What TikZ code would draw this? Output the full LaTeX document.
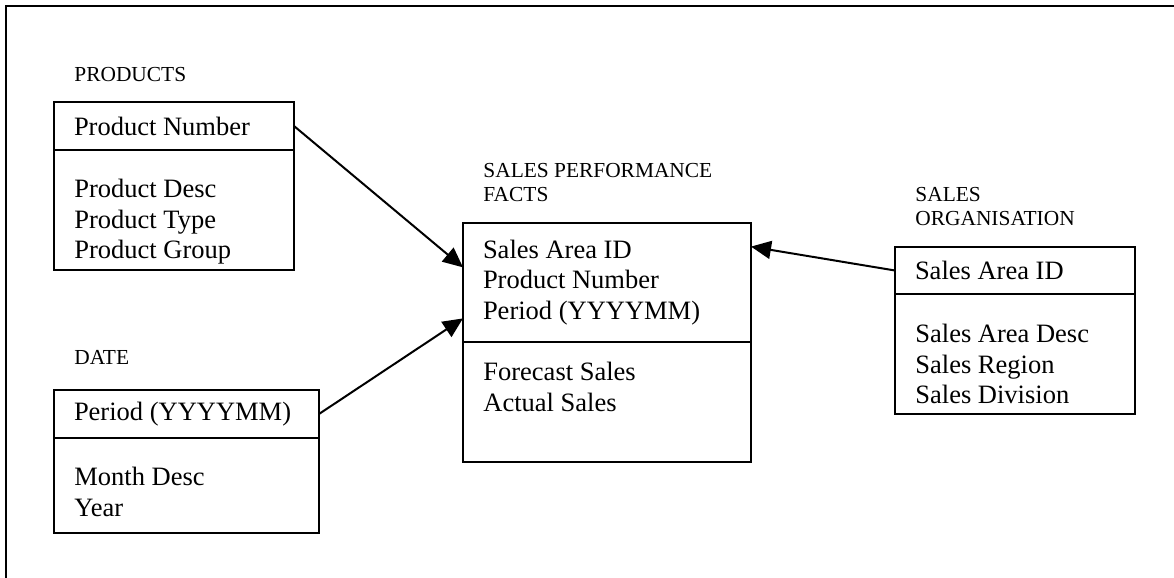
\documentclass[tikz,border=0pt]{standalone}
\usepackage{fontspec}
\setmainfont{Liberation Serif}
\usetikzlibrary{positioning}
\usetikzlibrary{arrows.meta}

\newcommand{\fieldfont}{\fontsize{13.25pt}{15.25pt}\selectfont}
\newcommand{\titlefont}{\fontsize{10.7pt}{12pt}\selectfont}

\tikzset{
	tablebox/.style={draw, line width=1pt, outer sep=0pt, anchor=north west, align=flush left, inner xsep=10pt, inner ysep=2pt, font=\fieldfont},
	fields/.style={inner sep=0pt, align=left, font=\fieldfont},
	tabletitle/.style={inner sep=0pt, align=left, font=\titlefont},
	link/.style={line width=1pt, -{Triangle[length=10pt,width=9pt]}}
}

\begin{document}
\begin{tikzpicture}[x=0.5pt, y=-0.5pt]
			\useasboundingbox (0,0) rectangle (1174,578);
			% open frame
			\draw[line width=1pt] (6,590) -- (6,6) -- (1190,6);
			% products
			\node[tablebox, text width=100pt, minimum height=24pt](prodkey) at (54,102){Product Number};
			\node[tablebox, text width=100pt, minimum height=60pt, below=0pt of prodkey](prodattr){};
			\node[tabletitle, above right=10pt and 10pt of prodkey.north west](prodtitle){PRODUCTS};
			\node[fields, below right=14.5pt and 10pt of prodattr.north west](prodfields){Product Desc\\Product Type\\Product Group};
			% date
			\node[tablebox, text width=112.5pt, minimum height=24pt](datekey) at (54,390){Period (YYYYMM)};
			\node[tablebox, text width=112.5pt, minimum height=47.5pt, below=0pt of datekey](dateattr){};
			\node[tabletitle, above right=12.5pt and 10pt of datekey.north west](datetitle){DATE};
			\node[fields, below right=14.5pt and 10pt of dateattr.north west](datefields){Month Desc\\Year};
			% facts
			\node[tablebox, text width=124pt, minimum height=59.5pt](factkey) at (463,223){Sales Area ID\\Product Number\\Period (YYYYMM)};
			\node[tablebox, text width=124pt, minimum height=60pt, below=0pt of factkey](factattr){};
			\node[tabletitle, above right=10.5pt and 10pt of factkey.north west](facttitle){SALES PERFORMANCE\\FACTS};
			\node[fields, below right=10pt and 10pt of factattr.north west](factfields){Forecast Sales\\Actual Sales};
			% sales organisation
			\node[tablebox, text width=100pt, minimum height=23.5pt](orgkey) at (895,247){Sales Area ID};
			\node[tablebox, text width=100pt, minimum height=60pt, below=0pt of orgkey](orgattr){};
			\node[tabletitle, above right=10.5pt and 10pt of orgkey.north west](orgtitle){SALES\\ORGANISATION};
			\node[fields, below right=15pt and 10pt of orgattr.north west](orgfields){Sales Area Desc\\Sales Region\\Sales Division};
			% links
			\draw[link] (prodkey.east) -- (factkey.174);
			\draw[link] (datekey.east) -- (factkey.194);
			\draw[link] (orgkey.west) -- (factkey.14);
\end{tikzpicture}
\end{document}
